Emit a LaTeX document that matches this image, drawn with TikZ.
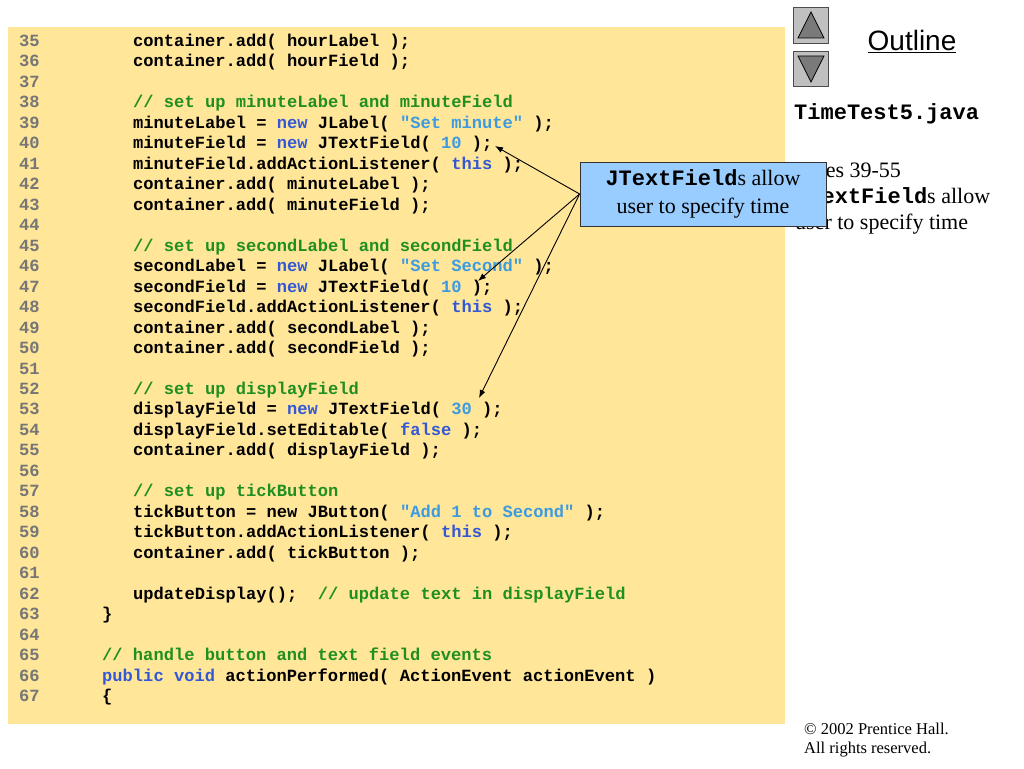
\documentclass[tikz,border=0pt]{standalone}
\usepackage{fontspec}
\setmainfont{Liberation Serif}
\setmonofont{Liberation Mono}
\newfontfamily\arialfont{Liberation Sans}
\usetikzlibrary{arrows.meta}
\definecolor{codebg}{HTML}{FFE699}
\definecolor{numgrey}{HTML}{767676}
\definecolor{kwblue}{HTML}{3358D6}
\definecolor{strblue}{HTML}{3C9BE0}
\definecolor{cmtgreen}{HTML}{1F8F1F}
\definecolor{callfill}{HTML}{99CCFF}
\definecolor{btnfill}{HTML}{C0C0C0}
\definecolor{trifill}{HTML}{7A7A7A}
\newcommand\kwd[1]{\textcolor{kwblue}{#1}}
\newcommand\strg[1]{\textcolor{strblue}{#1}}
\newcommand\cmt[1]{\textcolor{cmtgreen}{#1}}
\newcommand\codefont{\fontsize{17.1}{20}\selectfont\ttfamily\bfseries}
\newcommand\codeline[3]{\node[codetxt] (c#1) at (#2,{46.5+(#1-35)*20.47}) {#3};}
\tikzset{
  lnum/.style={anchor=base west, inner sep=0pt, font=\codefont, text=numgrey},
  codetxt/.style={anchor=base west, inner sep=0pt, font=\codefont, text=black},
  sidetxt/.style={anchor=base west, inner sep=0pt, font=\fontsize{22}{26}\selectfont},
  callbox/.style={draw=black!80, line width=0.8pt, fill=callfill, minimum width=246pt, minimum height=64pt, inner sep=0pt, align=center, font=\fontsize{22}{28}\selectfont},
  arr/.style={-{Latex[length=8pt,width=6pt]}, line width=0.9pt, black},
  btnbox/.style={draw=black!70, line width=0.8pt, fill=btnfill},
  tri/.style={draw=black, line width=0.7pt, fill=trifill},
}
\begin{document}
\begin{tikzpicture}[x=1pt,y=-1pt]
\useasboundingbox (0,0) rectangle (1024,768);
\fill[white] (0,0) rectangle (1024,768);
% code panel
\fill[codebg] (8,27) rectangle (785,724);
% line numbers
\foreach \i in {35,...,67} {
  \node[lnum] (ln\i) at (19,{46.5+(\i-35)*20.47}) {\i};
}
% code
\codeline{35}{133}{container.add( hourLabel );}
\codeline{36}{133}{container.add( hourField );}
\codeline{38}{133}{\cmt{// set up minuteLabel and minuteField}}
\codeline{39}{133}{minuteLabel = \kwd{new} JLabel( \strg{"Set minute"} );}
\codeline{40}{133}{minuteField = \kwd{new} JTextField( \strg{10} );}
\codeline{41}{133}{minuteField.addActionListener( \kwd{this} );}
\codeline{42}{133}{container.add( minuteLabel );}
\codeline{43}{133}{container.add( minuteField );}
\codeline{45}{133}{\cmt{// set up secondLabel and secondField}}
\codeline{46}{133}{secondLabel = \kwd{new} JLabel( \strg{"Set Second"} );}
\codeline{47}{133}{secondField = \kwd{new} JTextField( \strg{10} );}
\codeline{48}{133}{secondField.addActionListener( \kwd{this} );}
\codeline{49}{133}{container.add( secondLabel );}
\codeline{50}{133}{container.add( secondField );}
\codeline{52}{133}{\cmt{// set up displayField}}
\codeline{53}{133}{displayField = \kwd{new} JTextField( \strg{30} );}
\codeline{54}{133}{displayField.setEditable( \kwd{false} );}
\codeline{55}{133}{container.add( displayField );}
\codeline{57}{133}{\cmt{// set up tickButton}}
\codeline{58}{133}{tickButton = new JButton( \strg{"Add 1 to Second"} );}
\codeline{59}{133}{tickButton.addActionListener( \kwd{this} );}
\codeline{60}{133}{container.add( tickButton );}
\codeline{62}{133}{updateDisplay();~~\cmt{// update text in displayField}}
\codeline{63}{102}{\}}
\codeline{65}{102}{\cmt{// handle button and text field events}}
\codeline{66}{102}{\kwd{public} \kwd{void} actionPerformed( ActionEvent actionEvent )}
\codeline{67}{102}{\{}
% navigation buttons
\draw[btnbox] (793,7) rectangle (828,43);
\draw[tri] (811,12) -- (824,38) -- (798,38) -- cycle;
\draw[btnbox] (793,51) rectangle (828,86);
\draw[tri] (798,56) -- (824,56) -- (811,82) -- cycle;
% right column
\node[anchor=base, inner sep=0pt, font=\fontsize{28}{32}\selectfont\arialfont] (outline) at (912,51) {\underline{Outline}};
\node[anchor=base west, inner sep=0pt, font=\fontsize{22}{26}\selectfont\ttfamily\bfseries] (fname) at (794,119) {TimeTest5.java};
\node[sidetxt] (side1) at (795,177) {Lines 39-55};
\node[sidetxt] (side2) at (795,203) {{\ttfamily\bfseries JTextField}s allow};
\node[sidetxt] (side3) at (795,229) {user to specify time};
\node[anchor=base west, inner sep=0pt, font=\fontsize{16.5}{19}\selectfont] (copy1) at (804,734) {© 2002 Prentice Hall.};
\node[anchor=base west, inner sep=0pt, font=\fontsize{16.5}{19}\selectfont] (copy2) at (804,753) {All rights reserved.};
% callout
\node[callbox] (callout) at (703,194) {{\ttfamily\bfseries JTextField}s allow\\user to specify time};
\coordinate (t1) at (495,146);
\coordinate (t2) at (478,281);
\coordinate (t3) at (479,398);
\draw[arr] (callout.west) -- (t1);
\draw[arr] (callout.west) -- (t2);
\draw[arr] (callout.west) -- (t3);
\end{tikzpicture}
\end{document}
